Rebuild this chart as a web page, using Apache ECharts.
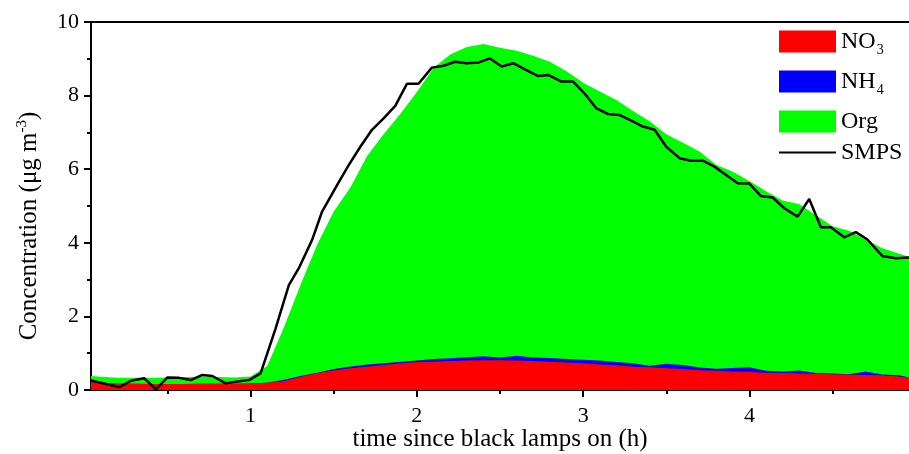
<!DOCTYPE html>
<html>
<head>
<meta charset="utf-8">
<script src="https://cdn.jsdelivr.net/npm/echarts@6/dist/echarts.min.js"></script>
<style>
  html, body { margin: 0; padding: 0; background: #fff; }
  #chart { width: 909px; height: 454px; }
</style>
</head>
<body>
<div id="chart"></div>
<script>
// aerosol composition sampled on a common time grid, hours
const hours = [0.04, 0.1, 0.2, 0.3, 0.4, 0.5, 0.6, 0.7, 0.8, 0.9, 1.0, 1.1, 1.2, 1.3, 1.4, 1.5, 1.6, 1.7, 1.8, 1.9,
  2.0, 2.1, 2.2, 2.3, 2.4, 2.5, 2.6, 2.7, 2.8, 2.9, 3.0, 3.1, 3.2, 3.3, 3.4, 3.5, 3.6, 3.7, 3.8, 3.9,
  4.0, 4.1, 4.2, 4.3, 4.4, 4.5, 4.6, 4.7, 4.8, 4.9, 4.96];
const no3 = [0.22, 0.19, 0.17, 0.17, 0.16, 0.16, 0.16, 0.17, 0.17, 0.17, 0.18, 0.20, 0.24, 0.35, 0.46, 0.53, 0.59, 0.63, 0.68, 0.72,
  0.76, 0.77, 0.79, 0.80, 0.81, 0.81, 0.80, 0.79, 0.77, 0.75, 0.73, 0.69, 0.67, 0.63, 0.62, 0.59, 0.57, 0.54, 0.52, 0.50,
  0.49, 0.47, 0.46, 0.45, 0.44, 0.43, 0.42, 0.41, 0.40, 0.37, 0.34];
const nh4 = [0, 0, 0, 0, 0, 0, 0, 0, 0, 0, 0, 0, 0.04, 0.03, 0.01, 0.04, 0.05, 0.06, 0.05, 0.05,
  0.04, 0.07, 0.07, 0.09, 0.11, 0.07, 0.13, 0.09, 0.10, 0.09, 0.09, 0.11, 0.09, 0.10, 0.04, 0.12, 0.11, 0.07, 0.06, 0.10,
  0.13, 0.05, 0.04, 0.08, 0.02, 0.02, 0.01, 0.09, 0.02, 0.03, 0];
const org = [0.16, 0.17, 0.16, 0.16, 0.17, 0.18, 0.19, 0.19, 0.18, 0.17, 0.19, 0.45, 1.42, 2.47, 3.48, 4.28, 4.86, 5.66, 6.22, 6.73,
  7.30, 7.91, 8.26, 8.43, 8.48, 8.42, 8.29, 8.20, 8.05, 7.82, 7.53, 7.31, 7.12, 6.85, 6.64, 6.24, 6.04, 5.87, 5.54, 5.33,
  5.06, 4.88, 4.65, 4.52, 4.29, 4.00, 3.90, 3.58, 3.43, 3.30, 3.28];

// SMPS total mass
const smpsHours = [0.04, 0.21, 0.28, 0.36, 0.43, 0.50, 0.57, 0.64, 0.71, 0.77, 0.85, 0.92, 0.99, 1.06, 1.15, 1.23, 1.29, 1.37, 1.43, 1.52,
  1.59, 1.66, 1.73, 1.80, 1.87, 1.94, 2.01, 2.09, 2.16, 2.23, 2.30, 2.37, 2.44, 2.51, 2.58, 2.65, 2.73, 2.79, 2.87, 2.94,
  3.01, 3.08, 3.15, 3.22, 3.29, 3.36, 3.43, 3.50, 3.58, 3.65, 3.72, 3.79, 3.86, 3.93, 4.00, 4.07, 4.14, 4.21, 4.29, 4.36,
  4.43, 4.49, 4.57, 4.64, 4.71, 4.80, 4.88, 4.96];
const smps = [0.26, 0.08, 0.25, 0.32, 0.02, 0.34, 0.33, 0.27, 0.41, 0.38, 0.18, 0.23, 0.27, 0.45, 1.67, 2.85, 3.31, 4.08, 4.85, 5.57,
  6.11, 6.61, 7.07, 7.38, 7.72, 8.32, 8.32, 8.76, 8.81, 8.92, 8.88, 8.90, 9.01, 8.79, 8.88, 8.71, 8.53, 8.56, 8.38, 8.38,
  8.05, 7.65, 7.50, 7.47, 7.32, 7.16, 7.07, 6.61, 6.30, 6.23, 6.23, 6.07, 5.84, 5.62, 5.61, 5.27, 5.23, 4.94, 4.71, 5.19,
  4.42, 4.42, 4.15, 4.29, 4.09, 3.64, 3.58, 3.60];

const majorTicks = [1, 2, 3, 4];
const minorTicks = [0.5, 1.5, 2.5, 3.5, 4.5];

// cumulative tops so each layer is filled down to zero (drawn back to front)
const topNo3 = no3.slice();
const topNh4 = no3.map((v, i) => v + nh4[i]);
const topOrg = topNh4.map((v, i) => v + org[i]);

const pairs = (xs, ys) => xs.map((x, i) => [x, +ys[i].toFixed(3)]);

const font = 'Liberation Serif';

const legendText = {
  fontFamily: font,
  fontSize: 24,
  color: '#000',
  lineHeight: 31,
  rich: {
    sub: { fontFamily: font, fontSize: 14, lineHeight: 31, verticalAlign: 'bottom', padding: [0, 0, 0, 1] }
  }
};

const areaSeries = (name, color, values, z) => ({
  name: name,
  type: 'line',
  data: pairs(hours, values),
  symbol: 'none',
  itemStyle: { color: color },
  lineStyle: { width: 0, color: color },
  areaStyle: { color: color, opacity: 1, origin: 'start' },
  z: z
});

const getOption = () => {
  return {
    animation: false,
    backgroundColor: '#fff',
    grid: { left: 91, right: 0, top: 22, bottom: 64, containLabel: false, outerBoundsMode: 'none' },
    legend: [
      {
        orient: 'vertical',
        left: 779,
        top: 26,
        padding: 0,
        itemWidth: 57,
        itemHeight: 22,
        itemGap: 9,
        textStyle: legendText,
        formatter: (name) => name === 'NO3' ? 'NO{sub|3}' : name === 'NH4' ? 'NH{sub|4}' : name,
        data: [
          { name: 'NO3', icon: 'rect', itemStyle: { color: '#ff0000' } },
          { name: 'NH4', icon: 'rect', itemStyle: { color: '#0000ff' } },
          { name: 'Org', icon: 'rect', itemStyle: { color: '#00ff00' } }
        ]
      },
      {
        orient: 'vertical',
        left: 779,
        top: 137,
        padding: 0,
        itemWidth: 57,
        itemHeight: 2,
        textStyle: legendText,
        data: [
          { name: 'SMPS', icon: 'rect', itemStyle: { color: '#000' } }
        ]
      }
    ],
    xAxis: [
      {
        type: 'value',
        min: 0.04,
        max: 4.96,
        position: 'bottom',
        name: 'time since black lamps on (h)',
        nameLocation: 'middle',
        nameGap: 37,
        nameMoveOverlap: false,
        nameTextStyle: { fontFamily: font, fontSize: 25, color: '#000' },
        axisLine: { onZero: false, lineStyle: { color: '#000', width: 2 } },
        axisTick: { show: true, inside: false, length: 7, lineStyle: { width: 2 }, customValues: majorTicks },
        axisLabel: { fontFamily: font, fontSize: 22, color: '#000', margin: 15, customValues: majorTicks },
        splitLine: { show: false }
      },
      {
        type: 'value',
        min: 0.04,
        max: 4.96,
        position: 'bottom',
        axisLine: { show: false },
        axisTick: { show: true, length: 4, lineStyle: { color: '#000', width: 2 }, customValues: minorTicks },
        axisLabel: { show: false },
        splitLine: { show: false }
      },
      {
        type: 'value',
        min: 0.04,
        max: 4.96,
        position: 'top',
        axisLine: { show: true, onZero: false, lineStyle: { color: '#000', width: 2 } },
        axisTick: { show: false },
        axisLabel: { show: false },
        splitLine: { show: false }
      }
    ],
    yAxis: {
      type: 'value',
      min: 0,
      max: 10,
      interval: 2,
      name: 'Concentration (μg m{sup|-3})',
      nameLocation: 'middle',
      nameGap: 47,
      nameTextStyle: {
        fontFamily: font,
        fontSize: 25,
        color: '#000',
        padding: [0, 40, 0, 0],
        rich: { sup: { fontFamily: font, fontSize: 15, padding: [0, 0, 14, 0] } }
      },
      axisLine: { show: true, lineStyle: { color: '#000', width: 2 } },
      axisTick: { show: true, inside: false, length: 7, lineStyle: { width: 2 } },
      minorTick: { show: true, splitNumber: 2, length: 4, lineStyle: { color: '#000', width: 2 } },
      axisLabel: { fontFamily: font, fontSize: 22, color: '#000', margin: 12 },
      splitLine: { show: false }
    },
    series: [
      areaSeries('Org', '#00ff00', topOrg, 2),
      areaSeries('NH4', '#0000ff', topNh4, 3),
      areaSeries('NO3', '#ff0000', topNo3, 4),
      {
        name: 'SMPS',
        type: 'line',
        data: pairs(smpsHours, smps),
        symbol: 'none',
        itemStyle: { color: '#000' },
        lineStyle: { color: '#000', width: 2.5 },
        z: 5
      }
    ]
  };
};

const initCharts = () => {
  const chart = echarts.init(document.getElementById('chart'));
  chart.setOption(getOption());
};

window.addEventListener('load', () => {
  initCharts();
});
</script>
</body>
</html>
